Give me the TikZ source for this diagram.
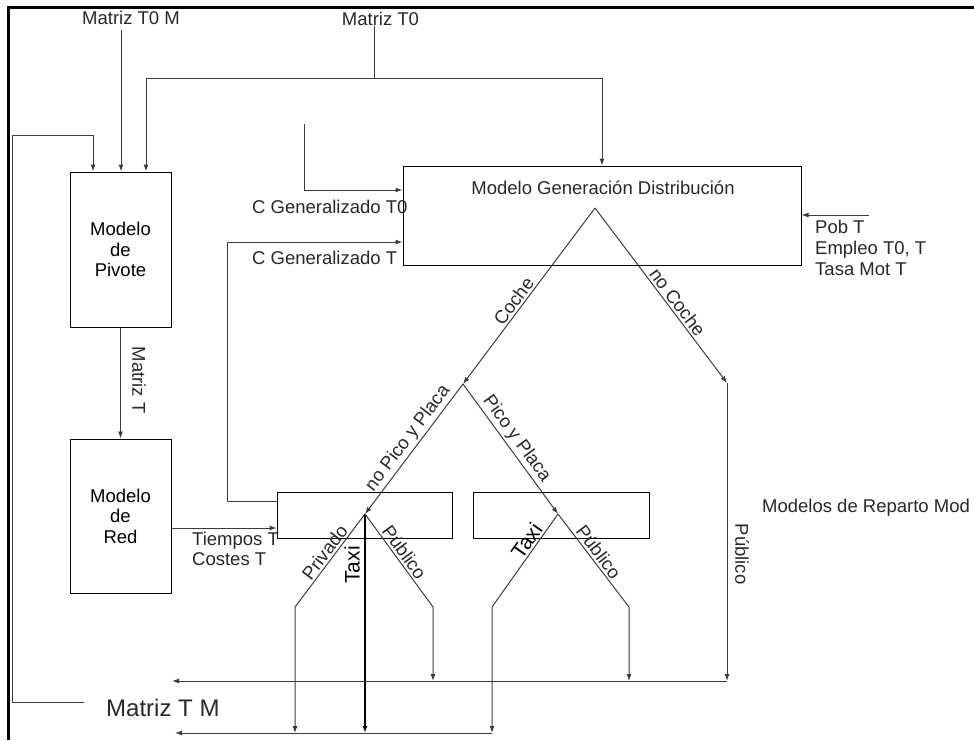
\documentclass[tikz,border=0pt]{standalone}
\usepackage{fontspec}
\setmainfont{Liberation Sans}
\usetikzlibrary{arrows.meta}

\begin{document}
\begin{tikzpicture}[x=1pt, y=-1pt,
    font=\fontsize{18.5}{20.5}\selectfont,
    box/.style={draw=black, line width=1pt, inner sep=0pt},
    arr/.style={draw=linegray, line width=1pt, -{Latex[length=7pt,width=5pt]}},
    lin/.style={draw=linegray, line width=1pt},
    txt/.style={inner sep=0pt, text=textgray},
    lean/.style={sloped, above, inner sep=2pt, text=textgray}]

    % Define colors
    \definecolor{linegray}{RGB}{60,60,60}
    \definecolor{textgray}{RGB}{40,40,40}

    \useasboundingbox (0,0) rectangle (974,740);

    % Draw the frame (left and top edges)
    \draw[line width=3pt] (8.5,740) -- (8.5,7.5) -- (974,7.5);

    % Draw the model boxes
    \node[box, minimum width=101pt, minimum height=155pt, align=center] (pivote) at (120.5,249.5) {Modelo\\de\\Pivote};
    \node[box, minimum width=101pt, minimum height=154pt, align=center] (red) at (120.5,516) {Modelo\\de\\Red};
    \node[box, minimum width=398pt, minimum height=99pt] (gendist) at (602,215.5) {};
    \node[box, minimum width=175pt, minimum height=46pt] (box1) at (364.5,515) {};
    \node[box, minimum width=176pt, minimum height=46pt] (box2) at (561,515) {};
    \node[txt] (gdtitle) at (603,188) {Modelo Generación Distribución};

    % Add input and output labels
    \node[txt] (mt0m) at (131,18) {Matriz T0 M};
    \node[txt] (mt0) at (380.5,19) {Matriz T0};
    \node[txt, anchor=west] (cg0lbl) at (252,207) {C Generalizado T0};
    \node[txt, anchor=west] (cgtlbl) at (252,258) {C Generalizado T};
    \node[txt, anchor=west, align=left, font=\fontsize{18.5}{21}\selectfont] (poblbl) at (815,248) {Pob T\\Empleo T0, T\\Tasa Mot T};
    \node[txt, anchor=west, align=left] (tclbl) at (192,549) {Tiempos T\\Costes T};
    \node[txt, rotate=-90, anchor=south] (mtlbl) at (132,380) {Matriz T};
    \node[txt, anchor=west, font=\fontsize{24}{28}\selectfont] (mtm) at (106,708) {Matriz T M};
    \node[txt, anchor=west] (reparto) at (762,508) {Modelos de Reparto Mod};

    % Inputs from the top
    \coordinate (inM) at (121,30);
    \draw[arr] (inM) -- (inM |- pivote.north);
    \coordinate (split0) at (374,78);
    \draw[lin] (split0 |- mt0.south) -- (split0);
    \draw[arr] (split0) -| (gendist.north);
    \draw[arr] (split0) -| ([xshift=25.5pt]pivote.north);

    % Feedback of Matriz T M
    \coordinate (fbk) at (84,702);
    \coordinate (fbcorner) at (12,135);
    \draw[arr] (fbk) -| (fbcorner) -| ([xshift=-27.5pt]pivote.north);

    % Generalised costs
    \coordinate (cg0) at (304,124);
    \draw[arr] (cg0) |- ([yshift=25.5pt]gendist.west);
    \coordinate (cgcorner) at (227,242);
    \draw[arr] ([yshift=14pt]box1.west) -| (cgcorner) -- ([yshift=-26.5pt]gendist.west);

    % Socio-economic inputs
    \coordinate (pob) at (869,215);
    \draw[arr] (pob) -- (pob -| gendist.east);

    % Times and costs, Matriz T
    \draw[arr] ([yshift=-12pt]red.east) -- ([yshift=-13pt]box1.west);
    \draw[arr] (pivote.south) -- (red.north);

    % Split points of the tree
    \coordinate (apex) at (595,208);
    \coordinate (coche) at (463,384);
    \coordinate (nocoche) at (727,383);
    \coordinate (nopp) at (365,514);
    \coordinate (pp) at (558,514);
    \coordinate (priv) at (295,607);
    \coordinate (pub1) at (433,607);
    \coordinate (taxi2) at (492,607);
    \coordinate (pub2) at (629,607);
    \coordinate (busA) at (172,681);
    \coordinate (busB) at (175,733);

    % Draw the car / no car tree
    \draw[arr] (apex) -- node[lean, pos=0.56] (cochelbl) {Coche} (coche);
    \draw[arr] (apex) -- node[lean, pos=0.57] (nocochelbl) {no Coche} (nocoche);
    \draw[arr] (coche) -- node[lean, pos=0.47] (noopplbl) {no Pico y Placa} (nopp);
    \draw[arr] (coche) -- node[lean, pos=0.47] (ppllbl) {Pico y Placa} (pp);

    % Draw the modal branches
    \draw[arr] (nopp) -- node[lean, pos=0.47] (privlbl) {Privado} (priv) -- (priv |- busB);
    \draw[arr, draw=black, line width=1.4pt] (nopp) -- (nopp |- busB);
    \node[txt, rotate=90, anchor=south, text=black, font=\fontsize{21}{24}\selectfont] (taxi1lbl) at (360,565) {Taxi};
    \draw[arr] (nopp) -- node[lean, pos=0.47] (pub1lbl) {Público} (pub1) -- (pub1 |- busA);
    \draw[arr] (pp) -- node[lean, pos=0.35, text=black, font=\fontsize{21}{24}\selectfont] (taxi2lbl) {Taxi} (taxi2) -- (taxi2 |- busB);
    \draw[arr] (pp) -- node[lean, pos=0.47] (pub2lbl) {Público} (pub2) -- (pub2 |- busA);
    \draw[arr] (nocoche) -- (nocoche |- busA);
    \node[txt, rotate=-90, anchor=south] (publbl) at (735,554) {Público};

    % Collecting lines
    \draw[arr] (nocoche |- busA) -- (busA);
    \draw[arr] (taxi2 |- busB) -- (busB);

\end{tikzpicture}
\end{document}
